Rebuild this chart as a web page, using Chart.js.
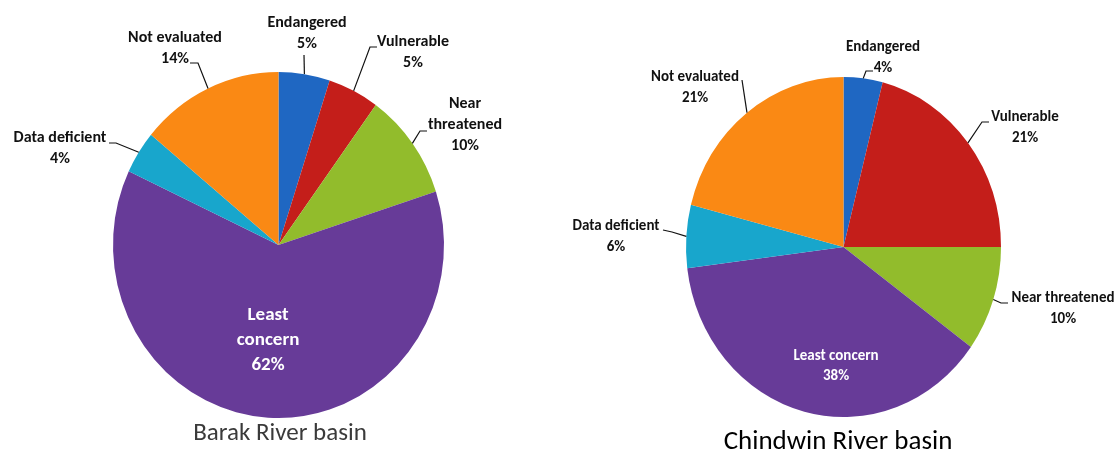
<!DOCTYPE html>
<html>
<head>
<meta charset="utf-8">
<script src="https://cdn.jsdelivr.net/npm/chart.js@4/dist/chart.umd.min.js"></script>
<style>
  html, body { margin: 0; padding: 0; background: #fff; }
  #page { position: relative; width: 1115px; height: 454px; overflow: hidden; }
  .pie { position: absolute; top: 0; height: 454px; }
</style>
</head>
<body>
<div id="page">
  <div class="pie" style="left:0;width:560px"><canvas id="barakChart"></canvas></div>
  <div class="pie" style="left:560px;width:555px"><canvas id="chindwinChart"></canvas></div>
</div>
<script>
const categories = ["Endangered", "Vulnerable", "Near threatened", "Least concern", "Data deficient", "Not evaluated"];
const barakValues = [5, 5, 10, 62, 4, 14];
const chindwinValues = [4, 21, 10, 38, 6, 21];
const sliceColors = ["#1f67c2", "#c41e1a", "#92bc2c", "#673b98", "#18a6cc", "#fa8914"];

const FONT = "Carlito, Calibri, Lato, sans-serif";

// where each slice label sits (canvas px) and how its leader line bends
const barakPlacement = [
  { x: 307, y: 23, knee: [304, 55] },
  { x: 413, y: 42, knee: [370, 47], end: [377, 47] },
  { x: 465, y: 104, wrap: true, knee: [420, 131], end: [427, 131] },
  { x: 268, y: 315, wrap: true, inside: true },
  { x: 60, y: 138, knee: [116, 143], end: [109, 143] },
  { x: 175, y: 38, knee: [198, 63], end: [190, 63] },
];
const chindwinPlacement = [
  { x: 323, y: 47, knee: [306, 71], end: [313, 71] },
  { x: 465, y: 117, knee: [422, 122], end: [429, 122] },
  { x: 503, y: 298, knee: [441, 303], end: [448, 303] },
  { x: 276, y: 356, inside: true },
  { x: 56, y: 226, knee: [112, 232], end: [103, 230] },
  { x: 135, y: 77, knee: [182, 80] },
];

// squeeze the pie horizontally so it comes out slightly oval
const ovalPlugin = {
  id: "oval",
  beforeDatasetsDraw(chart, args, opts) {
    const arc = chart.getDatasetMeta(0).data[0];
    const ctx = chart.ctx;
    ctx.save();
    ctx.translate(arc.x, arc.y);
    ctx.scale(opts.sx, 1);
    ctx.translate(-arc.x, -arc.y);
  },
  afterDatasetsDraw(chart) {
    chart.ctx.restore();
  },
};

const sliceLabels = {
  id: "sliceLabels",
  afterDraw(chart, args, opts) {
    const ctx = chart.ctx;
    const values = chart.data.datasets[0].data;
    const sx = chart.options.plugins.oval.sx;
    chart.getDatasetMeta(0).data.forEach((arc, i) => {
      const p = opts.placement[i];
      const name = chart.data.labels[i];
      const lines = (p.wrap ? name.split(" ") : [name]).concat(values[i] + "%");
      ctx.save();
      if (p.knee) {
        const mid = (arc.startAngle + arc.endAngle) / 2;
        const ex = arc.x + Math.cos(mid) * arc.outerRadius * sx;
        const ey = arc.y + Math.sin(mid) * arc.outerRadius;
        ctx.strokeStyle = "#111";
        ctx.lineWidth = 1.2;
        ctx.beginPath();
        ctx.moveTo(ex, ey);
        ctx.lineTo(p.knee[0], p.knee[1]);
        if (p.end) ctx.lineTo(p.end[0], p.end[1]);
        ctx.stroke();
      }
      const size = p.inside ? opts.insideSize : opts.size;
      const gap = p.inside ? opts.insideGap : opts.gap;
      ctx.font = "bold " + size + "px " + FONT;
      ctx.fillStyle = p.inside ? "#ffffff" : "#111111";
      ctx.textAlign = "center";
      ctx.textBaseline = "middle";
      lines.forEach((t, k) => ctx.fillText(t, p.x, p.y + k * gap));
      ctx.restore();
    });
    const t = opts.title;
    ctx.save();
    ctx.font = t.weight + " " + t.size + "px " + FONT;
    ctx.fillStyle = t.color;
    ctx.textAlign = "center";
    ctx.textBaseline = "middle";
    ctx.fillText(t.text, t.x, t.y);
    ctx.restore();
  },
};

function makePie(id, values, sx, padding, labelOpts) {
  return new Chart(document.getElementById(id), {
    type: "pie",
    data: {
      labels: categories,
      datasets: [{
        data: values,
        backgroundColor: sliceColors,
        borderWidth: 0,
        hoverBorderWidth: 0,
        hoverOffset: 0,
      }],
    },
    options: {
      responsive: true,
      maintainAspectRatio: false,
      animation: false,
      layout: { padding: padding },
      plugins: {
        legend: { display: false },
        tooltip: { enabled: false },
        oval: { sx: sx },
        sliceLabels: labelOpts,
      },
    },
    plugins: [ovalPlugin, sliceLabels],
  });
}

makePie("barakChart", barakValues, 165.5 / 173,
  { left: 105.5, top: 72, right: 108.5, bottom: 36 },
  {
    placement: barakPlacement, size: 16, gap: 21, insideSize: 19, insideGap: 25,
    title: { text: "Barak River basin", x: 280, y: 434, size: 25, weight: "normal", color: "#3a3a3a" },
  });

makePie("chindwinChart", chindwinValues, 157.5 / 170,
  { left: 113.5, top: 77, right: 101.5, bottom: 37 },
  {
    placement: chindwinPlacement, size: 15, gap: 21, insideSize: 15, insideGap: 20,
    title: { text: "Chindwin River basin", x: 278, y: 442, size: 27, weight: "normal", color: "#000000" },
  });
</script>
</body>
</html>
